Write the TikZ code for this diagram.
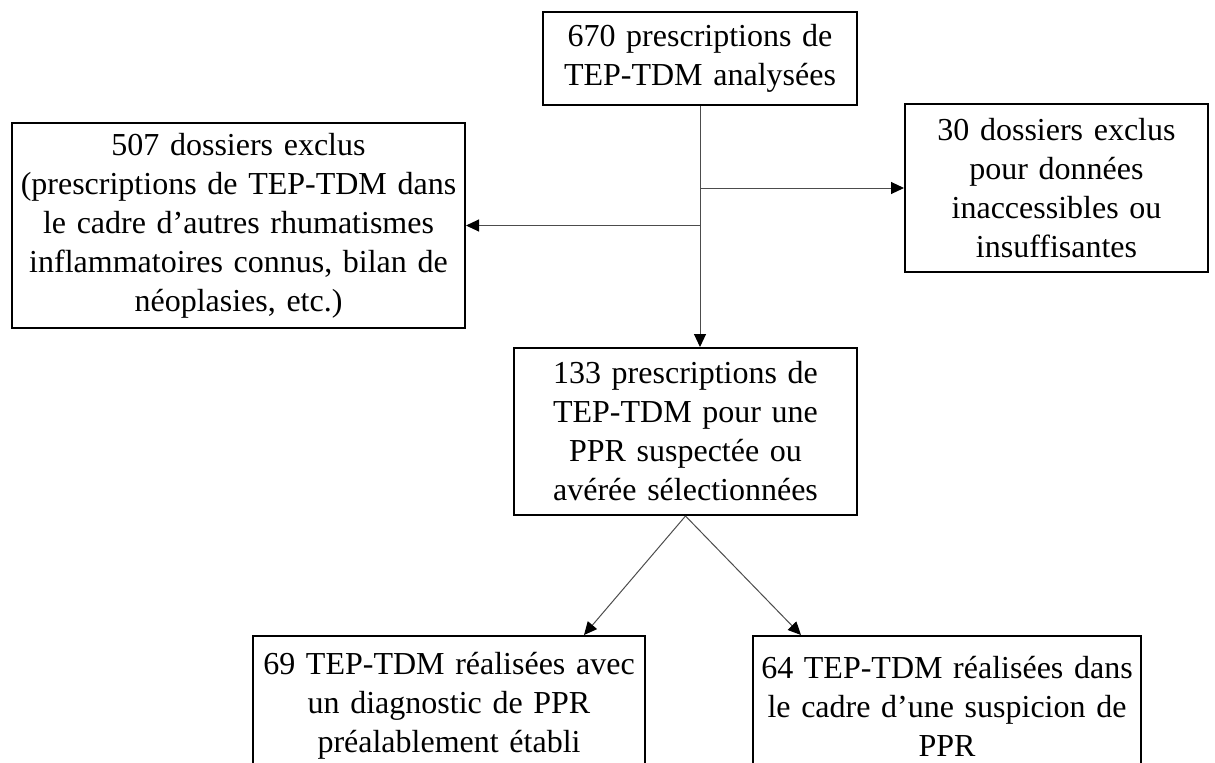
\documentclass[tikz,border=0pt]{standalone}
\usepackage{fontspec}
\setmainfont{Liberation Serif}
\usetikzlibrary{arrows.meta,calc}

\begin{document}
\begin{tikzpicture}[x=0.5pt, y=-0.5pt,
		box/.style={draw=black, line width=1pt, inner sep=0pt, align=center, font=\fontsize{16}{19.5}\selectfont},
		conn/.style={draw=black!70, line width=0.5pt, -{Triangle[length=6.5pt, width=6pt, color=black]}}]
			%%%%% START %%%%%
			
			\useasboundingbox (0, 0) rectangle (1215, 762);
			\clip (0, 0) rectangle (1215, 762);
			
			\node[box, minimum width=157pt, minimum height=46.5pt, text width=150pt] (analysees) at (700, 58.5) {670 prescriptions de\\TEP-TDM analysées};
			
			\node[box, minimum width=226.5pt, minimum height=102.5pt, text width=220pt] (exclus507) at (238.5, 225.5) {507 dossiers exclus\\(prescriptions de TEP-TDM dans\\le cadre d’autres rhumatismes\\inflammatoires connus, bilan de\\néoplasies, etc.)};
			
			\node[box, minimum width=151.5pt, minimum height=84pt, text width=145pt] (exclus30) at (1056.5, 188) {30 dossiers exclus\\pour données\\inaccessibles ou\\insuffisantes};
			
			\node[box, minimum width=171.5pt, minimum height=83.5pt, text width=165pt] (selection) at (685.5, 431.5) {133 prescriptions de\\TEP-TDM pour une\\PPR suspectée ou\\avérée sélectionnées};
			
			\node[box, minimum width=196pt, minimum height=70pt, text width=190pt] (diagnostic) at (449, 706) {69 TEP-TDM réalisées avec\\un diagnostic de PPR\\préalablement établi};
			
			\node[box, minimum width=194pt, minimum height=70pt, text width=188pt] (suspicion) at (947, 706) {64 TEP-TDM réalisées dans\\le cadre d’une suspicion de\\PPR};
			
			\draw[conn] (analysees.south) -- (analysees.south |- selection.north);
			\draw[conn] (analysees.south |- exclus30.west) -- (exclus30.west);
			\draw[conn] (analysees.south |- exclus507.east) -- (exclus507.east);
			
			\draw[conn] (selection.south) -- ([xshift=-31pt]diagnostic.north east);
			\draw[conn] (selection.south) -- ([xshift=24.5pt]suspicion.north west);
			
			%%%%% END %%%%%
		\end{tikzpicture}
\end{document}
